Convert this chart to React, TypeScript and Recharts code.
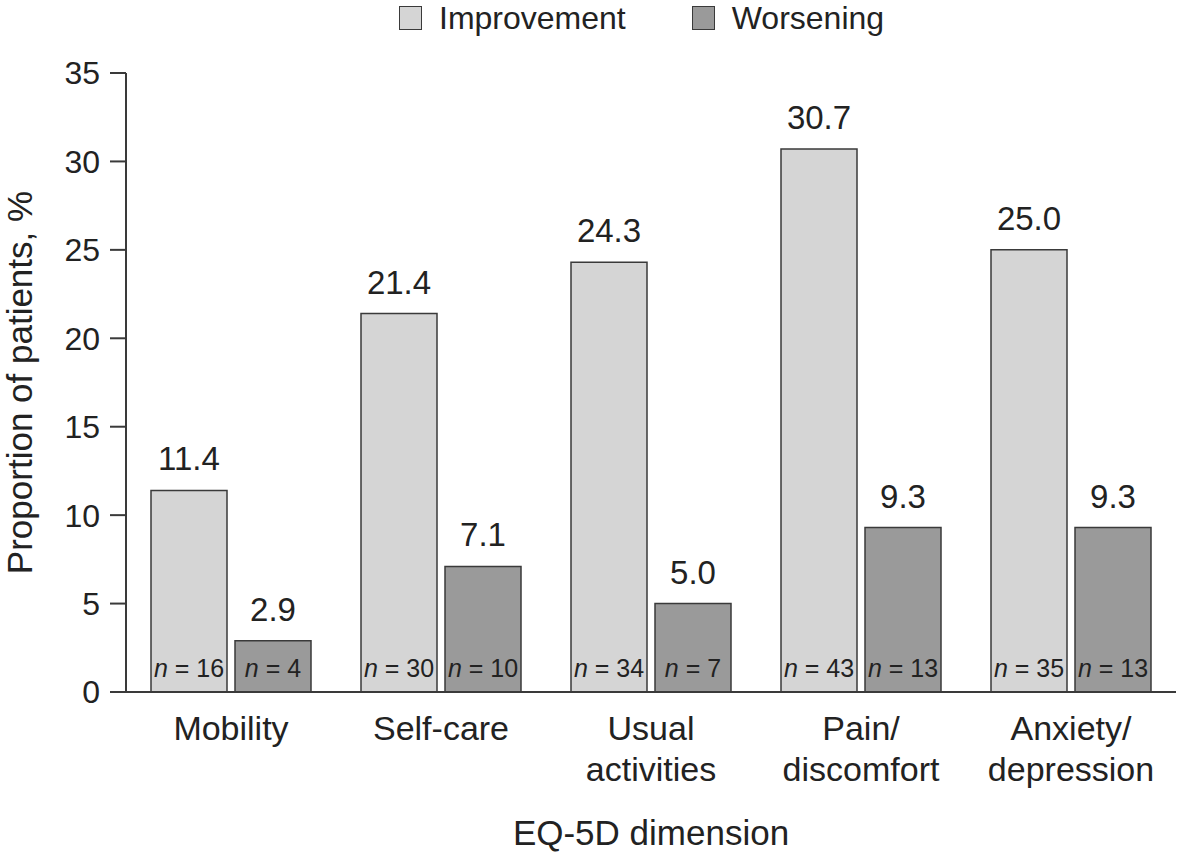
import { Bar, BarChart, Label, LabelList, Legend, XAxis, YAxis } from 'recharts'

const CATEGORIES = ['Mobility', 'Self-care', 'Usual\nactivities', 'Pain/\ndiscomfort', 'Anxiety/\ndepression']
const IMPROVEMENT = [11.4, 21.4, 24.3, 30.7, 25.0]
const WORSENING = [2.9, 7.1, 5.0, 9.3, 9.3]
const N_IMPROVEMENT = [16, 30, 34, 43, 35]
const N_WORSENING = [4, 10, 7, 13, 13]
const Y_TICKS = [0, 5, 10, 15, 20, 25, 30, 35]

const FONT = '"Liberation Sans", Arial, Helvetica, sans-serif'
const TEXT = '#222'
const EDGE = '#3a3a3a'
const IMP_FILL = '#d5d5d5'
const WOR_FILL = '#9a9a9a'

const data = CATEGORIES.map((c, i) => ({
  category: c,
  improvement: IMPROVEMENT[i],
  worsening: WORSENING[i],
  nImp: N_IMPROVEMENT[i],
  nWor: N_WORSENING[i],
}))

function CategoryTick({ x, y, payload }: any) {
  const lines = String(payload.value).split('\n')
  return (
    <text x={x} y={y} textAnchor="middle" fill={TEXT} fontSize={34} fontFamily={FONT}>
      {lines.map((l, i) => (
        <tspan key={i} x={x} dy={i === 0 ? 48 : 41}>
          {l}
        </tspan>
      ))}
    </text>
  )
}

function valueLabel(props: any) {
  const { x, y, width, value } = props
  return (
    <text x={x + width / 2} y={y - 20} textAnchor="middle" fill={TEXT} fontSize={33} fontFamily={FONT}>
      {Number(value).toFixed(1)}
    </text>
  )
}

function nLabel(props: any) {
  const { x, y, width, height, value } = props
  return (
    <text x={x + width / 2} y={y + height - 15} textAnchor="middle" fill={TEXT} fontSize={25} fontFamily={FONT}>
      <tspan fontStyle="italic">n</tspan>
      <tspan> = {value}</tspan>
    </text>
  )
}

function LegendBox() {
  const items = [
    { label: 'Improvement', fill: IMP_FILL, gap: 66 },
    { label: 'Worsening', fill: WOR_FILL, gap: 0 },
  ]
  return (
    <div style={{ height: 44, display: 'flex', alignItems: 'flex-start', paddingLeft: 399, fontFamily: FONT }}>
      {items.map((it) => (
        <div key={it.label} style={{ display: 'flex', alignItems: 'center', marginRight: it.gap, height: 36 }}>
          <div style={{ width: 21, height: 22, background: it.fill, border: `1.5px solid ${EDGE}`, marginRight: 17 }} />
          <span style={{ fontSize: 32, color: TEXT, lineHeight: '36px' }}>{it.label}</span>
        </div>
      ))}
    </div>
  )
}

export default function App() {
  return (
    <div style={{ position: 'absolute', left: 0, top: 0, background: '#fff' }}>
      <BarChart
        width={1181}
        height={855}
        data={data}
        margin={{ top: 29, right: 5, bottom: 0, left: 0 }}
        barSize={76}
        barGap={8}
      >
        <Legend
          verticalAlign="top"
          content={() => <LegendBox />}
          wrapperStyle={{ top: 0, left: 0, width: 1181 }}
        />
        <XAxis
          dataKey="category"
          tick={<CategoryTick />}
          tickLine={false}
          tickSize={0}
          tickMargin={0}
          interval={0}
          height={163}
          axisLine={{ stroke: EDGE, strokeWidth: 2 }}
        >
          <Label
            value="EQ-5D dimension"
            position="insideBottom"
            offset={10}
            fill={TEXT}
            fontSize={35}
            fontFamily={FONT}
          />
        </XAxis>
        <YAxis
          width={126}
          domain={[0, 35]}
          ticks={Y_TICKS}
          tickSize={16}
          tickMargin={10}
          tick={{ fill: TEXT, fontSize: 32, fontFamily: FONT }}
          tickLine={{ stroke: EDGE, strokeWidth: 2 }}
          axisLine={{ stroke: EDGE, strokeWidth: 2 }}
        >
          <Label
            content={({ viewBox }: any) => {
              const cy = viewBox.y + viewBox.height / 2
              return (
                <text
                  x={32}
                  y={cy}
                  transform={`rotate(-90, 32, ${cy})`}
                  textAnchor="middle"
                  fill={TEXT}
                  fontSize={35}
                  fontFamily={FONT}
                >
                  Proportion of patients, %
                </text>
              )
            }}
          />
        </YAxis>
        <Bar dataKey="improvement" name="Improvement" fill={IMP_FILL} stroke={EDGE} strokeWidth={1.5} isAnimationActive={false}>
          <LabelList dataKey="improvement" content={valueLabel} />
          <LabelList dataKey="nImp" content={nLabel} />
        </Bar>
        <Bar dataKey="worsening" name="Worsening" fill={WOR_FILL} stroke={EDGE} strokeWidth={1.5} isAnimationActive={false}>
          <LabelList dataKey="worsening" content={valueLabel} />
          <LabelList dataKey="nWor" content={nLabel} />
        </Bar>
      </BarChart>
    </div>
  )
}
